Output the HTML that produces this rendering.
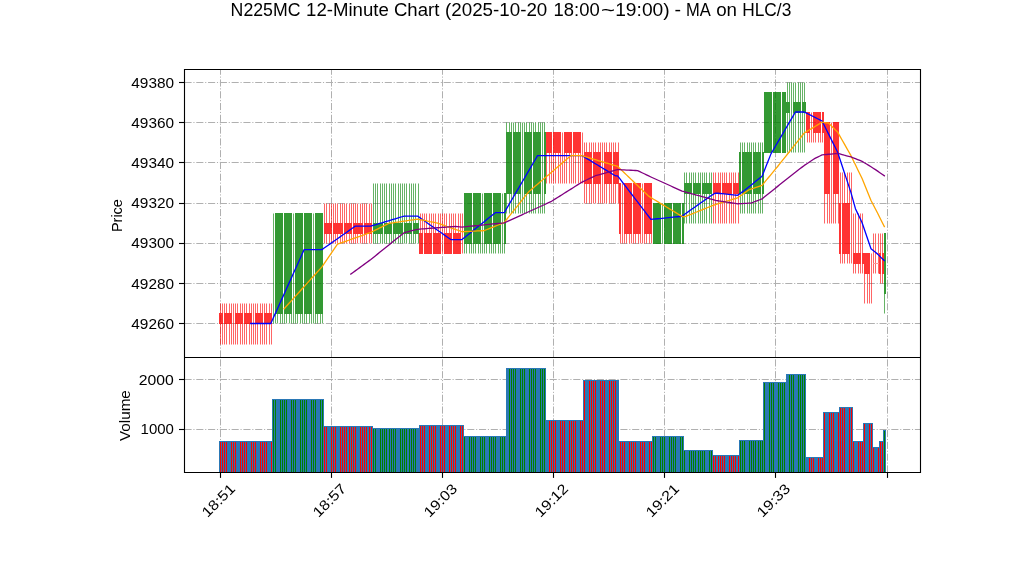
<!DOCTYPE html><html><head><meta charset="utf-8"><title>chart</title><style>html,body{margin:0;padding:0;background:#fff}svg{display:block;will-change:transform}text{font-family:"Liberation Sans",sans-serif;fill:#000}</style></head><body>
<svg width="1022" height="575" viewBox="0 0 1022 575">
<rect width="1022" height="575" fill="#fff"/>
<g stroke="#b0b0b0" stroke-width="1" stroke-dasharray="7.11 1.78 1.11 1.78" fill="none">
<path d="M184.5 82.5H920.5"/>
<path d="M184.5 122.5H920.5"/>
<path d="M184.5 162.5H920.5"/>
<path d="M184.5 203.5H920.5"/>
<path d="M184.5 243.5H920.5"/>
<path d="M184.5 283.5H920.5"/>
<path d="M184.5 323.5H920.5"/>
<path d="M184.5 379.5H920.5"/>
<path d="M184.5 429.5H920.5"/>
<path d="M220.5 357.5V69.5"/>
<path d="M220.5 472.5V357.5"/>
<path d="M331.5 357.5V69.5"/>
<path d="M331.5 472.5V357.5"/>
<path d="M442.5 357.5V69.5"/>
<path d="M442.5 472.5V357.5"/>
<path d="M553.5 357.5V69.5"/>
<path d="M553.5 472.5V357.5"/>
<path d="M664.5 357.5V69.5"/>
<path d="M664.5 472.5V357.5"/>
<path d="M775.5 357.5V69.5"/>
<path d="M775.5 472.5V357.5"/>
<path d="M887.5 357.5V69.5"/>
<path d="M887.5 472.5V357.5"/>
</g>
<g shape-rendering="crispEdges">
</g>
<path d="M220 303.5h1V313h-1zM220 324h1V344.5h-1zM222 303.5h1V313h-1zM222 324h1V344.5h-1zM224 303.5h1V313h-1zM224 324h1V344.5h-1zM226 303.5h1V313h-1zM226 324h1V344.5h-1zM229 303.5h1V313h-1zM229 324h1V344.5h-1zM231 303.5h1V313h-1zM231 324h1V344.5h-1zM233 303.5h1V344.5h-1zM235 303.5h1V313h-1zM235 324h1V344.5h-1zM237 303.5h1V313h-1zM237 324h1V344.5h-1zM240 303.5h1V313h-1zM240 324h1V344.5h-1zM242 303.5h1V313h-1zM242 324h1V344.5h-1zM244 303.5h1V313h-1zM244 324h1V344.5h-1zM246 303.5h1V313h-1zM246 324h1V344.5h-1zM249 303.5h1V313h-1zM249 324h1V344.5h-1zM251 303.5h1V313h-1zM251 324h1V344.5h-1zM253 303.5h1V344.5h-1zM255 303.5h1V313h-1zM255 324h1V344.5h-1zM257 303.5h1V313h-1zM257 324h1V344.5h-1zM260 303.5h1V313h-1zM260 324h1V344.5h-1zM262 303.5h1V313h-1zM262 324h1V344.5h-1zM264 303.5h1V313h-1zM264 324h1V344.5h-1zM266 303.5h1V313h-1zM266 324h1V344.5h-1zM269 303.5h1V313h-1zM269 324h1V344.5h-1zM271 303.5h1V313h-1zM271 324h1V344.5h-1zM324 203.5h1V223h-1zM324 234h1V243.5h-1zM326 203.5h1V223h-1zM326 234h1V243.5h-1zM329 203.5h1V223h-1zM329 234h1V243.5h-1zM331 203.5h1V223h-1zM331 234h1V243.5h-1zM333 203.5h1V223h-1zM333 234h1V243.5h-1zM335 203.5h1V223h-1zM335 234h1V243.5h-1zM337 203.5h1V223h-1zM337 234h1V243.5h-1zM340 203.5h1V223h-1zM340 234h1V243.5h-1zM342 203.5h1V223h-1zM342 234h1V243.5h-1zM344 203.5h1V223h-1zM344 234h1V243.5h-1zM346 203.5h1V223h-1zM346 234h1V243.5h-1zM349 203.5h1V223h-1zM349 234h1V243.5h-1zM351 203.5h1V223h-1zM351 234h1V243.5h-1zM353 203.5h1V223h-1zM353 234h1V243.5h-1zM355 203.5h1V223h-1zM355 234h1V243.5h-1zM357 203.5h1V223h-1zM357 234h1V243.5h-1zM360 203.5h1V223h-1zM360 234h1V243.5h-1zM362 203.5h1V223h-1zM362 234h1V243.5h-1zM364 203.5h1V223h-1zM364 234h1V243.5h-1zM366 203.5h1V223h-1zM366 234h1V243.5h-1zM369 203.5h1V223h-1zM369 234h1V243.5h-1zM371 203.5h1V223h-1zM371 234h1V243.5h-1zM420 213.5h1V233h-1zM422 213.5h1V233h-1zM424 213.5h1V233h-1zM426 213.5h1V233h-1zM429 213.5h1V233h-1zM431 213.5h1V233h-1zM433 213.5h1V233h-1zM435 213.5h1V233h-1zM438 213.5h1V233h-1zM440 213.5h1V233h-1zM442 213.5h1V253.5h-1zM444 213.5h1V233h-1zM446 213.5h1V233h-1zM449 213.5h1V233h-1zM451 213.5h1V233h-1zM453 213.5h1V233h-1zM455 213.5h1V233h-1zM458 213.5h1V233h-1zM460 213.5h1V233h-1zM462 213.5h1V253.5h-1zM546 153h1V183.5h-1zM549 153h1V183.5h-1zM551 153h1V183.5h-1zM553 153h1V183.5h-1zM555 153h1V183.5h-1zM558 153h1V183.5h-1zM560 153h1V183.5h-1zM562 132.5h1V183.5h-1zM564 153h1V183.5h-1zM566 153h1V183.5h-1zM569 153h1V183.5h-1zM571 153h1V183.5h-1zM573 153h1V183.5h-1zM575 153h1V183.5h-1zM578 153h1V183.5h-1zM580 153h1V183.5h-1zM582 132.5h1V183.5h-1zM584 142.5h1V152h-1zM584 184h1V203.5h-1zM586 142.5h1V152h-1zM586 184h1V203.5h-1zM589 142.5h1V152h-1zM589 184h1V203.5h-1zM591 142.5h1V152h-1zM591 184h1V203.5h-1zM593 142.5h1V152h-1zM593 184h1V203.5h-1zM595 142.5h1V152h-1zM595 184h1V203.5h-1zM598 142.5h1V152h-1zM598 184h1V203.5h-1zM600 142.5h1V152h-1zM600 184h1V203.5h-1zM602 142.5h1V203.5h-1zM604 142.5h1V152h-1zM604 184h1V203.5h-1zM606 142.5h1V152h-1zM606 184h1V203.5h-1zM609 142.5h1V152h-1zM609 184h1V203.5h-1zM611 142.5h1V152h-1zM611 184h1V203.5h-1zM613 142.5h1V152h-1zM613 184h1V203.5h-1zM615 142.5h1V152h-1zM615 184h1V203.5h-1zM618 142.5h1V152h-1zM618 184h1V203.5h-1zM620 234h1V243.5h-1zM622 183.5h1V243.5h-1zM624 234h1V243.5h-1zM626 234h1V243.5h-1zM629 234h1V243.5h-1zM631 234h1V243.5h-1zM633 234h1V243.5h-1zM635 234h1V243.5h-1zM638 234h1V243.5h-1zM640 234h1V243.5h-1zM642 183.5h1V243.5h-1zM644 234h1V243.5h-1zM646 234h1V243.5h-1zM649 234h1V243.5h-1zM651 234h1V243.5h-1zM713 172.5h1V183h-1zM713 194h1V223.5h-1zM715 172.5h1V183h-1zM715 194h1V223.5h-1zM718 172.5h1V183h-1zM718 194h1V223.5h-1zM720 172.5h1V183h-1zM720 194h1V223.5h-1zM722 172.5h1V183h-1zM722 194h1V223.5h-1zM724 172.5h1V183h-1zM724 194h1V223.5h-1zM726 172.5h1V183h-1zM726 194h1V223.5h-1zM729 172.5h1V183h-1zM729 194h1V223.5h-1zM731 172.5h1V183h-1zM731 194h1V223.5h-1zM733 172.5h1V183h-1zM733 194h1V223.5h-1zM735 172.5h1V183h-1zM735 194h1V223.5h-1zM738 172.5h1V183h-1zM738 194h1V223.5h-1zM807 133h1V142.5h-1zM809 133h1V142.5h-1zM811 112.5h1V142.5h-1zM813 133h1V142.5h-1zM815 133h1V142.5h-1zM818 133h1V142.5h-1zM820 133h1V142.5h-1zM822 133h1V142.5h-1zM824 194h1V223.5h-1zM827 194h1V223.5h-1zM829 194h1V223.5h-1zM831 122.5h1V223.5h-1zM833 194h1V223.5h-1zM835 194h1V223.5h-1zM838 194h1V223.5h-1zM840 172.5h1V203h-1zM840 254h1V263.5h-1zM842 172.5h1V203h-1zM842 254h1V263.5h-1zM844 172.5h1V203h-1zM844 254h1V263.5h-1zM847 172.5h1V203h-1zM847 254h1V263.5h-1zM849 172.5h1V203h-1zM849 254h1V263.5h-1zM851 172.5h1V263.5h-1zM853 213.5h1V253h-1zM853 264h1V273.5h-1zM855 213.5h1V253h-1zM855 264h1V273.5h-1zM858 213.5h1V253h-1zM858 264h1V273.5h-1zM860 213.5h1V253h-1zM860 264h1V273.5h-1zM862 213.5h1V253h-1zM862 264h1V273.5h-1zM864 274h1V303.5h-1zM867 274h1V303.5h-1zM869 274h1V303.5h-1zM871 253.5h1V303.5h-1zM873 233.5h1V263h-1zM873 264h1V273.5h-1zM875 233.5h1V263h-1zM875 264h1V273.5h-1zM878 233.5h1V263h-1zM878 264h1V273.5h-1zM880 233.5h1V253h-1zM880 274h1V283.5h-1zM882 233.5h1V253h-1zM882 274h1V283.5h-1z" fill="rgba(255,0,0,0.6)"/>
<path d="M273 213.5h1V323.5h-1zM275 314h1V323.5h-1zM277 314h1V323.5h-1zM280 314h1V323.5h-1zM282 314h1V323.5h-1zM284 314h1V323.5h-1zM286 314h1V323.5h-1zM289 314h1V323.5h-1zM291 314h1V323.5h-1zM293 213.5h1V323.5h-1zM295 314h1V323.5h-1zM297 314h1V323.5h-1zM300 314h1V323.5h-1zM302 314h1V323.5h-1zM304 314h1V323.5h-1zM306 314h1V323.5h-1zM309 314h1V323.5h-1zM311 314h1V323.5h-1zM313 213.5h1V323.5h-1zM315 314h1V323.5h-1zM317 314h1V323.5h-1zM320 314h1V323.5h-1zM322 314h1V323.5h-1zM373 183.5h1V223h-1zM373 234h1V243.5h-1zM375 183.5h1V223h-1zM375 234h1V243.5h-1zM377 183.5h1V223h-1zM377 234h1V243.5h-1zM380 183.5h1V223h-1zM380 234h1V243.5h-1zM382 183.5h1V223h-1zM382 234h1V243.5h-1zM384 183.5h1V223h-1zM384 234h1V243.5h-1zM386 183.5h1V223h-1zM386 234h1V243.5h-1zM389 183.5h1V223h-1zM389 234h1V243.5h-1zM391 183.5h1V223h-1zM391 234h1V243.5h-1zM393 183.5h1V223h-1zM393 234h1V243.5h-1zM395 183.5h1V223h-1zM395 234h1V243.5h-1zM398 183.5h1V223h-1zM398 234h1V243.5h-1zM400 183.5h1V223h-1zM400 234h1V243.5h-1zM402 183.5h1V223h-1zM402 234h1V243.5h-1zM404 183.5h1V223h-1zM404 234h1V243.5h-1zM406 183.5h1V223h-1zM406 234h1V243.5h-1zM409 183.5h1V223h-1zM409 234h1V243.5h-1zM411 183.5h1V223h-1zM411 234h1V243.5h-1zM413 183.5h1V223h-1zM413 234h1V243.5h-1zM415 183.5h1V223h-1zM415 234h1V243.5h-1zM418 183.5h1V223h-1zM418 234h1V243.5h-1zM464 244h1V253.5h-1zM466 244h1V253.5h-1zM469 244h1V253.5h-1zM471 244h1V253.5h-1zM473 244h1V253.5h-1zM475 244h1V253.5h-1zM478 244h1V253.5h-1zM480 244h1V253.5h-1zM482 193.5h1V253.5h-1zM484 244h1V253.5h-1zM486 244h1V253.5h-1zM489 244h1V253.5h-1zM491 244h1V253.5h-1zM493 244h1V253.5h-1zM495 244h1V253.5h-1zM498 244h1V253.5h-1zM500 244h1V253.5h-1zM502 193.5h1V253.5h-1zM504 244h1V253.5h-1zM506 122.5h1V132h-1zM506 194h1V213.5h-1zM509 122.5h1V132h-1zM509 194h1V213.5h-1zM511 122.5h1V132h-1zM511 194h1V213.5h-1zM513 122.5h1V132h-1zM513 194h1V213.5h-1zM515 122.5h1V132h-1zM515 194h1V213.5h-1zM518 122.5h1V132h-1zM518 194h1V213.5h-1zM520 122.5h1V132h-1zM520 194h1V213.5h-1zM522 122.5h1V213.5h-1zM524 122.5h1V132h-1zM524 194h1V213.5h-1zM526 122.5h1V132h-1zM526 194h1V213.5h-1zM529 122.5h1V132h-1zM529 194h1V213.5h-1zM531 122.5h1V132h-1zM531 194h1V213.5h-1zM533 122.5h1V132h-1zM533 194h1V213.5h-1zM535 122.5h1V132h-1zM535 194h1V213.5h-1zM538 122.5h1V132h-1zM538 194h1V213.5h-1zM540 122.5h1V132h-1zM540 194h1V213.5h-1zM542 122.5h1V213.5h-1zM544 122.5h1V132h-1zM544 194h1V213.5h-1zM662 203.5h1V243.5h-1zM684 172.5h1V183h-1zM684 194h1V223.5h-1zM686 172.5h1V183h-1zM686 194h1V223.5h-1zM689 172.5h1V183h-1zM689 194h1V223.5h-1zM691 172.5h1V183h-1zM691 194h1V223.5h-1zM693 172.5h1V183h-1zM693 194h1V223.5h-1zM695 172.5h1V183h-1zM695 194h1V223.5h-1zM698 172.5h1V183h-1zM698 194h1V223.5h-1zM700 172.5h1V183h-1zM700 194h1V223.5h-1zM702 172.5h1V183h-1zM702 194h1V223.5h-1zM704 172.5h1V183h-1zM704 194h1V223.5h-1zM706 172.5h1V183h-1zM706 194h1V223.5h-1zM709 172.5h1V183h-1zM709 194h1V223.5h-1zM711 172.5h1V183h-1zM711 194h1V223.5h-1zM740 142.5h1V152h-1zM740 194h1V213.5h-1zM742 142.5h1V152h-1zM742 194h1V213.5h-1zM744 142.5h1V152h-1zM744 194h1V213.5h-1zM747 142.5h1V152h-1zM747 194h1V213.5h-1zM749 142.5h1V152h-1zM749 194h1V213.5h-1zM751 142.5h1V152h-1zM751 194h1V213.5h-1zM753 142.5h1V152h-1zM753 194h1V213.5h-1zM755 142.5h1V152h-1zM755 194h1V213.5h-1zM758 142.5h1V152h-1zM758 194h1V213.5h-1zM760 142.5h1V152h-1zM760 194h1V213.5h-1zM762 142.5h1V152h-1zM762 194h1V213.5h-1zM787 82.5h1V102h-1zM787 113h1V152.5h-1zM789 82.5h1V102h-1zM789 113h1V152.5h-1zM791 82.5h1V152.5h-1zM793 82.5h1V102h-1zM793 113h1V152.5h-1zM795 82.5h1V102h-1zM795 113h1V152.5h-1zM798 82.5h1V102h-1zM798 113h1V152.5h-1zM800 82.5h1V102h-1zM800 113h1V152.5h-1zM802 82.5h1V102h-1zM802 113h1V152.5h-1zM804 82.5h1V102h-1zM804 113h1V152.5h-1zM884 294h1V313.5h-1z" fill="rgba(0,128,0,0.6)"/>
<path d="M219 313h2V324h-2zM221 313h2V324h-2zM224 313h2V324h-2zM226 313h2V324h-2zM228 313h2V324h-2zM230 313h2V324h-2zM235 313h2V324h-2zM237 313h2V324h-2zM239 313h2V324h-2zM241 313h2V324h-2zM244 313h2V324h-2zM246 313h2V324h-2zM248 313h2V324h-2zM250 313h2V324h-2zM255 313h2V324h-2zM257 313h2V324h-2zM259 313h2V324h-2zM261 313h2V324h-2zM264 313h2V324h-2zM266 313h2V324h-2zM268 313h2V324h-2zM270 313h2V324h-2zM324 223h2V234h-2zM326 223h2V234h-2zM328 223h2V234h-2zM330 223h2V234h-2zM333 223h2V234h-2zM335 223h2V234h-2zM337 223h2V234h-2zM339 223h2V234h-2zM341 223h2V234h-2zM344 223h2V234h-2zM346 223h2V234h-2zM348 223h2V234h-2zM350 223h2V234h-2zM353 223h2V234h-2zM355 223h2V234h-2zM357 223h2V234h-2zM359 223h2V234h-2zM361 223h2V234h-2zM364 223h2V234h-2zM366 223h2V234h-2zM368 223h2V234h-2zM370 223h2V234h-2zM419 233h2V254h-2zM421 233h2V254h-2zM424 233h2V254h-2zM426 233h2V254h-2zM428 233h2V254h-2zM430 233h2V254h-2zM433 233h2V254h-2zM435 233h2V254h-2zM437 233h2V254h-2zM439 233h2V254h-2zM444 233h2V254h-2zM446 233h2V254h-2zM448 233h2V254h-2zM450 233h2V254h-2zM453 233h2V254h-2zM455 233h2V254h-2zM457 233h2V254h-2zM459 233h2V254h-2zM546 132h2V153h-2zM548 132h2V153h-2zM550 132h2V153h-2zM553 132h2V153h-2zM555 132h2V153h-2zM557 132h2V153h-2zM559 132h2V153h-2zM564 132h2V153h-2zM566 132h2V153h-2zM568 132h2V153h-2zM570 132h2V153h-2zM573 132h2V153h-2zM575 132h2V153h-2zM577 132h2V153h-2zM579 132h2V153h-2zM584 152h2V184h-2zM586 152h2V184h-2zM588 152h2V184h-2zM590 152h2V184h-2zM593 152h2V184h-2zM595 152h2V184h-2zM597 152h2V184h-2zM599 152h2V184h-2zM604 152h2V184h-2zM606 152h2V184h-2zM608 152h2V184h-2zM610 152h2V184h-2zM613 152h2V184h-2zM615 152h2V184h-2zM617 152h2V184h-2zM619 183h2V234h-2zM624 183h2V234h-2zM626 183h2V234h-2zM628 183h2V234h-2zM630 183h2V234h-2zM633 183h2V234h-2zM635 183h2V234h-2zM637 183h2V234h-2zM639 183h2V234h-2zM644 183h2V234h-2zM646 183h2V234h-2zM648 183h2V234h-2zM650 183h2V234h-2zM713 183h2V194h-2zM715 183h2V194h-2zM717 183h2V194h-2zM719 183h2V194h-2zM722 183h2V194h-2zM724 183h2V194h-2zM726 183h2V194h-2zM728 183h2V194h-2zM730 183h2V194h-2zM733 183h2V194h-2zM735 183h2V194h-2zM737 183h2V194h-2zM806 112h2V133h-2zM808 112h2V133h-2zM813 112h2V133h-2zM815 112h2V133h-2zM817 112h2V133h-2zM819 112h2V133h-2zM822 112h2V133h-2zM824 122h2V194h-2zM826 122h2V194h-2zM828 122h2V194h-2zM833 122h2V194h-2zM835 122h2V194h-2zM837 122h2V194h-2zM839 203h2V254h-2zM842 203h2V254h-2zM844 203h2V254h-2zM846 203h2V254h-2zM848 203h2V254h-2zM853 253h2V264h-2zM855 253h2V264h-2zM857 253h2V264h-2zM859 253h2V264h-2zM862 253h2V264h-2zM864 253h2V274h-2zM866 253h2V274h-2zM868 253h2V274h-2zM879 253h2V274h-2zM882 253h2V274h-2z" fill="rgba(255,0,0,0.8)"/>
<path d="M275 213h2V314h-2zM277 213h2V314h-2zM279 213h2V314h-2zM281 213h2V314h-2zM284 213h2V314h-2zM286 213h2V314h-2zM288 213h2V314h-2zM290 213h2V314h-2zM295 213h2V314h-2zM297 213h2V314h-2zM299 213h2V314h-2zM301 213h2V314h-2zM304 213h2V314h-2zM306 213h2V314h-2zM308 213h2V314h-2zM310 213h2V314h-2zM315 213h2V314h-2zM317 213h2V314h-2zM319 213h2V314h-2zM321 213h2V314h-2zM373 223h2V234h-2zM375 223h2V234h-2zM377 223h2V234h-2zM379 223h2V234h-2zM381 223h2V234h-2zM384 223h2V234h-2zM386 223h2V234h-2zM388 223h2V234h-2zM390 223h2V234h-2zM393 223h2V234h-2zM395 223h2V234h-2zM397 223h2V234h-2zM399 223h2V234h-2zM401 223h2V234h-2zM404 223h2V234h-2zM406 223h2V234h-2zM408 223h2V234h-2zM410 223h2V234h-2zM413 223h2V234h-2zM415 223h2V234h-2zM417 223h2V234h-2zM464 193h2V244h-2zM466 193h2V244h-2zM468 193h2V244h-2zM470 193h2V244h-2zM473 193h2V244h-2zM475 193h2V244h-2zM477 193h2V244h-2zM479 193h2V244h-2zM484 193h2V244h-2zM486 193h2V244h-2zM488 193h2V244h-2zM490 193h2V244h-2zM493 193h2V244h-2zM495 193h2V244h-2zM497 193h2V244h-2zM499 193h2V244h-2zM504 193h2V244h-2zM506 132h2V194h-2zM508 132h2V194h-2zM510 132h2V194h-2zM513 132h2V194h-2zM515 132h2V194h-2zM517 132h2V194h-2zM519 132h2V194h-2zM524 132h2V194h-2zM526 132h2V194h-2zM528 132h2V194h-2zM530 132h2V194h-2zM533 132h2V194h-2zM535 132h2V194h-2zM537 132h2V194h-2zM539 132h2V194h-2zM544 132h2V194h-2zM653 203h2V244h-2zM655 203h2V244h-2zM657 203h2V244h-2zM659 203h2V244h-2zM664 203h2V244h-2zM666 203h2V244h-2zM668 203h2V244h-2zM670 203h2V244h-2zM673 203h2V244h-2zM675 203h2V244h-2zM677 203h2V244h-2zM679 203h2V244h-2zM682 203h2V244h-2zM684 183h2V194h-2zM686 183h2V194h-2zM688 183h2V194h-2zM690 183h2V194h-2zM693 183h2V194h-2zM695 183h2V194h-2zM697 183h2V194h-2zM699 183h2V194h-2zM702 183h2V194h-2zM704 183h2V194h-2zM706 183h2V194h-2zM708 183h2V194h-2zM710 183h2V194h-2zM739 152h2V194h-2zM742 152h2V194h-2zM744 152h2V194h-2zM746 152h2V194h-2zM748 152h2V194h-2zM750 152h2V194h-2zM753 152h2V194h-2zM755 152h2V194h-2zM757 152h2V194h-2zM759 152h2V194h-2zM762 152h2V194h-2zM764 92h2V153h-2zM766 92h2V153h-2zM768 92h2V153h-2zM770 92h2V153h-2zM773 92h2V153h-2zM775 92h2V153h-2zM777 92h2V153h-2zM779 92h2V153h-2zM782 92h2V153h-2zM784 92h2V153h-2zM786 102h2V113h-2zM788 102h2V113h-2zM793 102h2V113h-2zM795 102h2V113h-2zM797 102h2V113h-2zM799 102h2V113h-2zM802 102h2V113h-2zM804 102h2V113h-2zM884 233h2V294h-2z" fill="rgba(0,128,0,0.8)"/>
<path d="M873 263h2V264h-2zM875 263h2V264h-2zM877 263h2V264h-2z" fill="rgba(255,0,0,0.4)"/>
<polyline points="250.79,323.49 253.01,323.49 255.24,323.49 257.46,323.49 259.68,323.49 261.91,323.49 264.13,323.49 266.35,323.49 268.58,323.49 270.80,323.49 273.02,318.57 275.24,313.64 277.47,308.72 279.69,303.80 281.91,298.87 284.14,293.95 286.36,289.03 288.58,284.11 290.80,279.18 293.03,274.26 295.25,269.34 297.47,264.41 299.70,259.49 301.92,254.57 304.14,249.64 306.37,249.64 308.59,249.64 310.81,249.64 313.03,249.64 315.26,249.64 317.48,249.64 319.70,249.64 321.93,249.64 324.15,248.08 326.37,246.51 328.59,244.94 330.82,243.38 333.04,241.81 335.26,240.24 337.49,238.68 339.71,237.11 341.93,235.55 344.16,233.98 346.38,232.41 348.60,230.85 350.82,229.28 353.05,227.71 355.27,226.15 357.49,226.15 359.72,226.15 361.94,226.15 364.16,226.15 366.38,226.15 368.61,226.15 370.83,226.15 373.05,225.48 375.28,224.80 377.50,224.13 379.72,223.46 381.95,222.79 384.17,222.12 386.39,221.45 388.61,220.78 390.84,220.10 393.06,219.43 395.28,218.76 397.51,218.09 399.73,217.42 401.95,216.75 404.17,216.08 406.40,216.08 408.62,216.08 410.84,216.08 413.07,216.08 415.29,216.08 417.51,216.08 419.73,217.64 421.96,219.21 424.18,220.78 426.40,222.34 428.63,223.91 430.85,225.48 433.07,227.04 435.30,228.61 437.52,230.17 439.74,231.74 441.96,233.31 444.19,234.87 446.41,236.44 448.63,238.01 450.86,239.57 453.08,239.57 455.30,239.57 457.52,239.57 459.75,239.57 461.97,239.57 464.19,237.78 466.42,235.99 468.64,234.20 470.86,232.41 473.09,230.62 475.31,228.83 477.53,227.04 479.75,225.25 481.98,223.46 484.20,221.67 486.42,219.88 488.65,218.09 490.87,216.30 493.09,214.51 495.31,212.72 497.54,212.72 499.76,212.72 501.98,212.72 504.21,212.72 506.43,208.92 508.65,205.11 510.88,201.31 513.10,197.50 515.32,193.70 517.54,189.89 519.77,186.09 521.99,182.29 524.21,178.48 526.44,174.68 528.66,170.87 530.88,167.07 533.10,163.27 535.33,159.46 537.55,155.66 539.77,155.66 542.00,155.66 544.22,155.66 546.44,155.66 548.67,155.66 550.89,155.66 553.11,155.66 555.33,155.66 557.56,155.66 559.78,155.66 562.00,155.66 564.23,155.66 566.45,155.66 568.67,155.66 570.89,155.66 573.12,155.66 575.34,155.66 577.56,155.66 579.79,155.66 582.01,155.66 584.23,157.00 586.45,158.34 588.68,159.68 590.90,161.03 593.12,162.37 595.35,163.71 597.57,165.06 599.79,166.40 602.02,167.74 604.24,169.08 606.46,170.43 608.68,171.77 610.91,173.11 613.13,174.45 615.35,175.80 617.58,175.80 619.80,178.71 622.02,181.61 624.24,184.52 626.47,187.43 628.69,190.34 630.91,193.25 633.14,196.16 635.36,199.07 637.58,201.98 639.81,204.89 642.03,207.80 644.25,210.71 646.47,213.62 648.70,216.52 650.92,219.43 653.14,219.21 655.37,218.99 657.59,218.76 659.81,218.54 662.03,218.31 664.26,218.09 666.48,217.87 668.70,217.64 670.93,217.42 673.15,217.20 675.37,216.97 677.60,216.75 679.82,216.52 682.04,216.30 684.26,214.51 686.49,212.94 688.71,211.38 690.93,209.81 693.16,208.24 695.38,206.68 697.60,205.11 699.82,203.55 702.05,201.98 704.27,200.41 706.49,198.85 708.72,197.28 710.94,195.71 713.16,194.37 715.39,193.03 717.61,193.25 719.83,193.48 722.05,193.70 724.28,193.92 726.50,194.15 728.72,194.37 730.95,194.59 733.17,194.82 735.39,195.04 737.61,195.27 739.84,193.70 742.06,192.13 744.28,190.57 746.51,188.78 748.73,186.99 750.95,185.20 753.17,183.41 755.40,181.61 757.62,179.82 759.84,178.03 762.07,176.24 764.29,170.65 766.51,165.06 768.74,159.46 770.96,153.87 773.18,150.06 775.40,146.26 777.63,142.45 779.85,138.65 782.07,134.85 784.30,131.04 786.52,127.24 788.74,123.43 790.96,119.63 793.19,115.82 795.41,112.02 797.63,112.02 799.86,112.02 802.08,112.02 804.30,112.02 806.53,113.14 808.75,114.26 810.97,115.38 813.19,116.50 815.42,117.61 817.64,118.73 819.86,119.85 822.09,120.97 824.31,125.45 826.53,129.92 828.75,134.40 830.98,138.87 833.20,143.35 835.42,147.82 837.65,152.30 839.87,159.01 842.09,165.73 844.32,172.44 846.54,179.15 848.76,185.87 850.98,192.58 853.21,200.64 855.43,208.69 857.65,213.39 859.88,218.09 862.10,222.79 864.32,229.28 866.54,235.77 868.77,242.26 870.99,248.75 873.21,250.54 875.44,252.33 877.66,254.12 879.88,256.36 882.11,258.59 884.33,260.61" fill="none" stroke="#0000ff" stroke-width="1.3" stroke-linejoin="round" stroke-linecap="square"/>
<polyline points="284.14,308.72 286.36,306.26 288.58,303.80 290.80,301.34 293.03,298.87 295.25,296.41 297.47,293.95 299.70,291.49 301.92,289.03 304.14,286.57 306.37,284.11 308.59,281.64 310.81,279.18 313.03,276.72 315.26,274.26 317.48,271.80 319.70,269.34 321.93,266.87 324.15,263.63 326.37,260.38 328.59,257.14 330.82,253.90 333.04,250.65 335.26,247.41 337.49,244.16 339.71,243.38 341.93,242.59 344.16,241.81 346.38,241.03 348.60,240.24 350.82,239.46 353.05,238.68 355.27,237.89 357.49,237.11 359.72,236.33 361.94,235.55 364.16,234.76 366.38,233.98 368.61,233.20 370.83,232.41 373.05,231.29 375.28,230.17 377.50,229.06 379.72,227.94 381.95,226.82 384.17,225.70 386.39,224.58 388.61,223.46 390.84,223.13 393.06,222.79 395.28,222.45 397.51,222.12 399.73,221.78 401.95,221.45 404.17,221.11 406.40,220.78 408.62,220.44 410.84,220.10 413.07,219.77 415.29,219.43 417.51,219.10 419.73,219.55 421.96,219.99 424.18,220.44 426.40,220.89 428.63,221.34 430.85,221.78 433.07,222.23 435.30,222.68 437.52,223.13 439.74,223.91 441.96,224.69 444.19,225.48 446.41,226.26 448.63,227.04 450.86,227.82 453.08,228.61 455.30,229.39 457.52,230.17 459.75,230.96 461.97,231.74 464.19,231.63 466.42,231.52 468.64,231.41 470.86,231.29 473.09,231.18 475.31,231.07 477.53,230.96 479.75,230.85 481.98,230.73 484.20,230.62 486.42,229.73 488.65,228.83 490.87,227.94 493.09,227.04 495.31,226.15 497.54,225.25 499.76,224.36 501.98,223.46 504.21,222.57 506.43,219.77 508.65,216.97 510.88,214.17 513.10,211.38 515.32,208.58 517.54,205.78 519.77,202.99 521.99,200.19 524.21,197.39 526.44,194.59 528.66,191.80 530.88,189.89 533.10,187.99 535.33,186.09 537.55,184.19 539.77,182.29 542.00,180.38 544.22,178.48 546.44,176.58 548.67,174.68 550.89,172.78 553.11,170.87 555.33,168.97 557.56,167.07 559.78,165.17 562.00,163.27 564.23,161.36 566.45,159.46 568.67,157.56 570.89,155.66 573.12,155.66 575.34,155.66 577.56,155.66 579.79,155.66 582.01,155.66 584.23,156.33 586.45,157.00 588.68,157.67 590.90,158.34 593.12,159.01 595.35,159.68 597.57,160.36 599.79,161.03 602.02,161.70 604.24,162.37 606.46,163.04 608.68,163.71 610.91,164.38 613.13,165.06 615.35,165.73 617.58,166.40 619.80,168.52 622.02,170.65 624.24,172.78 626.47,174.90 628.69,177.03 630.91,179.15 633.14,181.28 635.36,183.41 637.58,185.53 639.81,187.66 642.03,189.78 644.25,191.91 646.47,194.03 648.70,196.16 650.92,197.62 653.14,198.96 655.37,200.30 657.59,201.64 659.81,202.99 662.03,204.33 664.26,205.67 666.48,207.01 668.70,208.36 670.93,209.70 673.15,211.04 675.37,212.38 677.60,213.73 679.82,215.07 682.04,216.41 684.26,216.97 686.49,216.08 688.71,215.18 690.93,214.29 693.16,213.39 695.38,212.50 697.60,211.60 699.82,210.71 702.05,209.81 704.27,208.92 706.49,208.02 708.72,207.13 710.94,206.23 713.16,205.45 715.39,204.66 717.61,203.88 719.83,203.21 722.05,202.54 724.28,201.87 726.50,201.20 728.72,200.52 730.95,199.85 733.17,199.18 735.39,198.51 737.61,197.84 739.84,196.27 742.06,194.71 744.28,193.14 746.51,191.57 748.73,190.01 750.95,189.22 753.17,188.44 755.40,187.66 757.62,186.87 759.84,186.09 762.07,185.31 764.29,182.62 766.51,179.94 768.74,177.25 770.96,174.57 773.18,171.88 775.40,169.20 777.63,166.51 779.85,163.71 782.07,160.92 784.30,158.12 786.52,155.32 788.74,152.52 790.96,149.73 793.19,146.93 795.41,144.13 797.63,141.33 799.86,138.54 802.08,135.74 804.30,132.94 806.53,131.60 808.75,130.26 810.97,128.92 813.19,127.57 815.42,126.23 817.64,124.89 819.86,123.54 822.09,122.20 824.31,122.54 826.53,122.87 828.75,123.21 830.98,125.45 833.20,127.68 835.42,129.92 837.65,132.16 839.87,136.08 842.09,139.99 844.32,143.91 846.54,147.82 848.76,151.74 850.98,155.66 853.21,160.24 855.43,164.83 857.65,169.42 859.88,174.01 862.10,178.59 864.32,184.08 866.54,189.56 868.77,195.04 870.99,200.52 873.21,204.78 875.44,209.03 877.66,213.28 879.88,217.75 882.11,222.23 884.33,226.59" fill="none" stroke="#ffa500" stroke-width="1.3" stroke-linejoin="round" stroke-linecap="square"/>
<polyline points="350.82,274.09 353.05,272.47 355.27,270.85 357.49,269.22 359.72,267.60 361.94,265.98 364.16,264.36 366.38,262.73 368.61,261.11 370.83,259.49 373.05,257.70 375.28,255.91 377.50,254.12 379.72,252.33 381.95,250.54 384.17,248.75 386.39,246.96 388.61,245.17 390.84,243.38 393.06,241.59 395.28,239.80 397.51,238.01 399.73,236.22 401.95,234.43 404.17,232.64 406.40,232.08 408.62,231.52 410.84,230.96 413.07,230.40 415.29,229.84 417.51,229.28 419.73,229.11 421.96,228.94 424.18,228.78 426.40,228.61 428.63,228.44 430.85,228.27 433.07,228.10 435.30,227.94 437.52,227.77 439.74,227.60 441.96,227.43 444.19,227.27 446.41,227.10 448.63,226.93 450.86,226.76 453.08,226.59 455.30,226.43 457.52,226.65 459.75,226.87 461.97,227.10 464.19,226.87 466.42,226.65 468.64,226.43 470.86,226.20 473.09,225.98 475.31,225.76 477.53,225.53 479.75,225.31 481.98,225.08 484.20,224.86 486.42,224.64 488.65,224.41 490.87,224.19 493.09,223.96 495.31,223.74 497.54,223.52 499.76,223.29 501.98,223.07 504.21,222.85 506.43,221.84 508.65,220.83 510.88,219.82 513.10,218.82 515.32,217.81 517.54,216.80 519.77,215.80 521.99,214.79 524.21,213.78 526.44,212.78 528.66,211.77 530.88,210.76 533.10,209.75 535.33,208.75 537.55,207.74 539.77,206.73 542.00,205.73 544.22,204.72 546.44,203.71 548.67,202.71 550.89,201.70 553.11,200.30 555.33,198.90 557.56,197.50 559.78,196.10 562.00,194.71 564.23,193.31 566.45,191.91 568.67,190.51 570.89,189.11 573.12,187.71 575.34,186.31 577.56,184.92 579.79,183.52 582.01,182.12 584.23,181.06 586.45,179.99 588.68,178.93 590.90,177.87 593.12,176.80 595.35,175.74 597.57,175.13 599.79,174.51 602.02,173.89 604.24,173.28 606.46,172.66 608.68,172.05 610.91,171.43 613.13,170.82 615.35,170.20 617.58,169.59 619.80,169.70 622.02,169.81 624.24,169.92 626.47,170.03 628.69,170.15 630.91,170.26 633.14,170.37 635.36,170.48 637.58,170.59 639.81,171.66 642.03,172.72 644.25,173.78 646.47,174.85 648.70,175.91 650.92,176.97 653.14,177.98 655.37,178.99 657.59,179.99 659.81,181.00 662.03,182.01 664.26,183.01 666.48,184.02 668.70,185.03 670.93,186.03 673.15,187.04 675.37,188.05 677.60,189.06 679.82,190.06 682.04,191.07 684.26,191.68 686.49,192.30 688.71,192.92 690.93,193.53 693.16,194.15 695.38,194.76 697.60,195.38 699.82,195.99 702.05,196.61 704.27,197.22 706.49,197.84 708.72,198.45 710.94,199.07 713.16,199.74 715.39,200.41 717.61,200.75 719.83,201.08 722.05,201.42 724.28,201.75 726.50,202.09 728.72,202.43 730.95,202.76 733.17,203.10 735.39,203.43 737.61,203.77 739.84,203.66 742.06,203.55 744.28,203.43 746.51,203.32 748.73,203.21 750.95,203.10 753.17,202.26 755.40,201.42 757.62,200.58 759.84,199.74 762.07,198.90 764.29,197.11 766.51,195.32 768.74,193.53 770.96,191.74 773.18,189.95 775.40,188.16 777.63,186.37 779.85,184.58 782.07,182.79 784.30,181.00 786.52,179.27 788.74,177.53 790.96,175.80 793.19,174.06 795.41,172.33 797.63,170.59 799.86,168.86 802.08,167.13 804.30,165.39 806.53,163.94 808.75,162.48 810.97,161.03 813.19,159.57 815.42,158.12 817.64,157.06 819.86,155.99 822.09,154.93 824.31,154.71 826.53,154.48 828.75,154.26 830.98,154.03 833.20,153.81 835.42,153.59 837.65,153.36 839.87,153.98 842.09,154.59 844.32,155.21 846.54,155.77 848.76,156.33 850.98,156.89 853.21,157.78 855.43,158.68 857.65,159.57 859.88,160.47 862.10,161.36 864.32,162.71 866.54,164.05 868.77,165.39 870.99,166.73 873.21,168.19 875.44,169.64 877.66,171.10 879.88,172.66 882.11,174.23 884.33,175.74" fill="none" stroke="#800080" stroke-width="1.3" stroke-linejoin="round" stroke-linecap="square"/>
<path d="M219 441h54V472h-54zM272 399h52V472h-52zM323 426h50V472h-50zM372 428h47V472h-47zM419 425h45V472h-45zM463 436h43V472h-43zM506 368h40V472h-40zM546 420h38V472h-38zM583 380h36V472h-36zM619 441h34V472h-34zM652 436h32V472h-32zM683 450h30V472h-30zM712 455h28V472h-28zM739 440h25V472h-25zM763 382h23V472h-23zM786 374h20V472h-20zM806 457h18V472h-18zM823 412h17V472h-17zM839 407h14V472h-14zM852 441h12V472h-12zM863 423h10V472h-10zM872 447h8V472h-8zM879 441h5V472h-5zM883 430h3V472h-3z" fill="#2a78b5"/>
<path d="M220 442h1V472h-1zM222 442h1V472h-1zM224 442h1V472h-1zM226 442h1V472h-1zM231 442h1V472h-1zM233 442h1V472h-1zM235 442h1V472h-1zM240 442h1V472h-1zM242 442h1V472h-1zM244 442h1V472h-1zM246 442h1V472h-1zM251 442h1V472h-1zM253 442h1V472h-1zM255 442h1V472h-1zM260 442h1V472h-1zM262 442h1V472h-1zM264 442h1V472h-1zM266 442h1V472h-1zM271 442h1V472h-1zM324 427h1V472h-1zM326 427h1V472h-1zM331 427h1V472h-1zM333 427h1V472h-1zM335 427h1V472h-1zM340 427h1V472h-1zM342 427h1V472h-1zM344 427h1V472h-1zM346 427h1V472h-1zM349 427h1V472h-1zM351 427h1V472h-1zM353 427h1V472h-1zM355 427h1V472h-1zM360 427h1V472h-1zM362 427h1V472h-1zM364 427h1V472h-1zM366 427h1V472h-1zM369 427h1V472h-1zM371 427h1V472h-1zM420 426h1V472h-1zM422 426h1V472h-1zM424 426h1V472h-1zM429 426h1V472h-1zM431 426h1V472h-1zM433 426h1V472h-1zM435 426h1V472h-1zM440 426h1V472h-1zM442 426h1V472h-1zM444 426h1V472h-1zM449 426h1V472h-1zM451 426h1V472h-1zM453 426h1V472h-1zM455 426h1V472h-1zM460 426h1V472h-1zM462 426h1V472h-1zM549 421h1V472h-1zM551 421h1V472h-1zM553 421h1V472h-1zM555 421h1V472h-1zM560 421h1V472h-1zM562 421h1V472h-1zM564 421h1V472h-1zM569 421h1V472h-1zM571 421h1V472h-1zM573 421h1V472h-1zM575 421h1V472h-1zM580 421h1V472h-1zM582 421h1V472h-1zM584 381h1V472h-1zM589 381h1V472h-1zM591 381h1V472h-1zM593 381h1V472h-1zM595 381h1V472h-1zM600 381h1V472h-1zM602 381h1V472h-1zM604 381h1V472h-1zM609 381h1V472h-1zM611 381h1V472h-1zM613 381h1V472h-1zM615 381h1V472h-1zM620 442h1V472h-1zM622 442h1V472h-1zM624 442h1V472h-1zM629 442h1V472h-1zM631 442h1V472h-1zM633 442h1V472h-1zM635 442h1V472h-1zM640 442h1V472h-1zM642 442h1V472h-1zM644 442h1V472h-1zM649 442h1V472h-1zM651 442h1V472h-1zM713 456h1V472h-1zM715 456h1V472h-1zM718 456h1V472h-1zM720 456h1V472h-1zM722 456h1V472h-1zM724 456h1V472h-1zM729 456h1V472h-1zM731 456h1V472h-1zM733 456h1V472h-1zM735 456h1V472h-1zM738 456h1V472h-1zM809 458h1V472h-1zM811 458h1V472h-1zM813 458h1V472h-1zM818 458h1V472h-1zM820 458h1V472h-1zM822 458h1V472h-1zM824 413h1V472h-1zM829 413h1V472h-1zM831 413h1V472h-1zM833 413h1V472h-1zM838 413h1V472h-1zM840 408h1V472h-1zM842 408h1V472h-1zM844 408h1V472h-1zM849 408h1V472h-1zM851 408h1V472h-1zM853 442h1V472h-1zM858 442h1V472h-1zM860 442h1V472h-1zM862 442h1V472h-1zM864 424h1V472h-1zM869 424h1V472h-1zM871 424h1V472h-1zM873 448h1V472h-1zM878 448h1V472h-1zM880 442h1V472h-1zM882 442h1V472h-1z" fill="#ff0000"/>
<path d="M273 400h1V472h-1zM275 400h1V472h-1zM280 400h1V472h-1zM282 400h1V472h-1zM284 400h1V472h-1zM286 400h1V472h-1zM291 400h1V472h-1zM293 400h1V472h-1zM295 400h1V472h-1zM300 400h1V472h-1zM302 400h1V472h-1zM304 400h1V472h-1zM306 400h1V472h-1zM311 400h1V472h-1zM313 400h1V472h-1zM315 400h1V472h-1zM320 400h1V472h-1zM322 400h1V472h-1zM373 429h1V472h-1zM375 429h1V472h-1zM380 429h1V472h-1zM382 429h1V472h-1zM384 429h1V472h-1zM386 429h1V472h-1zM389 429h1V472h-1zM391 429h1V472h-1zM393 429h1V472h-1zM395 429h1V472h-1zM400 429h1V472h-1zM402 429h1V472h-1zM404 429h1V472h-1zM406 429h1V472h-1zM409 429h1V472h-1zM411 429h1V472h-1zM413 429h1V472h-1zM415 429h1V472h-1zM464 437h1V472h-1zM469 437h1V472h-1zM471 437h1V472h-1zM473 437h1V472h-1zM475 437h1V472h-1zM480 437h1V472h-1zM482 437h1V472h-1zM484 437h1V472h-1zM489 437h1V472h-1zM491 437h1V472h-1zM493 437h1V472h-1zM495 437h1V472h-1zM500 437h1V472h-1zM502 437h1V472h-1zM504 437h1V472h-1zM509 369h1V472h-1zM511 369h1V472h-1zM513 369h1V472h-1zM515 369h1V472h-1zM520 369h1V472h-1zM522 369h1V472h-1zM524 369h1V472h-1zM529 369h1V472h-1zM531 369h1V472h-1zM533 369h1V472h-1zM535 369h1V472h-1zM540 369h1V472h-1zM542 369h1V472h-1zM544 369h1V472h-1zM653 437h1V472h-1zM655 437h1V472h-1zM660 437h1V472h-1zM662 437h1V472h-1zM664 437h1V472h-1zM669 437h1V472h-1zM671 437h1V472h-1zM673 437h1V472h-1zM675 437h1V472h-1zM680 437h1V472h-1zM682 437h1V472h-1zM684 451h1V472h-1zM689 451h1V472h-1zM691 451h1V472h-1zM693 451h1V472h-1zM695 451h1V472h-1zM698 451h1V472h-1zM700 451h1V472h-1zM702 451h1V472h-1zM704 451h1V472h-1zM709 451h1V472h-1zM711 451h1V472h-1zM740 441h1V472h-1zM742 441h1V472h-1zM744 441h1V472h-1zM749 441h1V472h-1zM751 441h1V472h-1zM753 441h1V472h-1zM755 441h1V472h-1zM758 441h1V472h-1zM760 441h1V472h-1zM762 441h1V472h-1zM764 383h1V472h-1zM769 383h1V472h-1zM771 383h1V472h-1zM773 383h1V472h-1zM778 383h1V472h-1zM780 383h1V472h-1zM782 383h1V472h-1zM784 383h1V472h-1zM789 375h1V472h-1zM791 375h1V472h-1zM793 375h1V472h-1zM798 375h1V472h-1zM800 375h1V472h-1zM802 375h1V472h-1zM804 375h1V472h-1zM884 431h1V472h-1z" fill="#008000"/>
<g stroke="#000" stroke-width="1.11" fill="none">
<path d="M184.5 69.5H920.5V472.5H184.5z"/>
<path d="M184.5 357.5H920.5"/>
<path d="M179.0 82.5H184.5"/>
<path d="M179.0 122.5H184.5"/>
<path d="M179.0 162.5H184.5"/>
<path d="M179.0 203.5H184.5"/>
<path d="M179.0 243.5H184.5"/>
<path d="M179.0 283.5H184.5"/>
<path d="M179.0 323.5H184.5"/>
<path d="M179.0 379.5H184.5"/>
<path d="M179.0 429.5H184.5"/>
<path d="M220.5 473V477.9"/>
<path d="M331.5 473V477.9"/>
<path d="M442.5 473V477.9"/>
<path d="M553.5 473V477.9"/>
<path d="M664.5 473V477.9"/>
<path d="M775.5 473V477.9"/>
<path d="M887.5 473V477.9"/>
</g>
<text x="230.62" y="15.90" font-size="17.50" textLength="69.90" lengthAdjust="spacingAndGlyphs">N225MC</text>
<text x="306.09" y="15.90" font-size="17.50" textLength="82.69" lengthAdjust="spacingAndGlyphs">12-Minute</text>
<text x="393.92" y="15.90" font-size="17.50" textLength="45.41" lengthAdjust="spacingAndGlyphs">Chart</text>
<text x="445.09" y="15.90" font-size="17.50" textLength="102.22" lengthAdjust="spacingAndGlyphs">(2025-10-20</text>
<text x="553.61" y="15.90" font-size="17.50" textLength="46.14" lengthAdjust="spacingAndGlyphs">18:00</text>
<text x="601.13" y="15.90" font-size="17.50" textLength="14.10" lengthAdjust="spacingAndGlyphs">~</text>
<text x="615.20" y="15.90" font-size="17.50" textLength="54.49" lengthAdjust="spacingAndGlyphs">19:00)</text>
<text x="674.63" y="15.90" font-size="17.50" textLength="6.55" lengthAdjust="spacingAndGlyphs">-</text>
<text x="686.10" y="15.90" font-size="17.50" textLength="24.79" lengthAdjust="spacingAndGlyphs">MA</text>
<text x="716.15" y="15.90" font-size="17.50" textLength="20.85" lengthAdjust="spacingAndGlyphs">on</text>
<text x="742.27" y="15.90" font-size="17.50" textLength="49.02" lengthAdjust="spacingAndGlyphs">HLC/3</text>
<text x="131.28" y="88.00" font-size="14.10" textLength="42.83" lengthAdjust="spacingAndGlyphs">49380</text>
<text x="131.28" y="128.00" font-size="14.10" textLength="42.83" lengthAdjust="spacingAndGlyphs">49360</text>
<text x="131.28" y="168.00" font-size="14.10" textLength="42.83" lengthAdjust="spacingAndGlyphs">49340</text>
<text x="131.28" y="208.00" font-size="14.10" textLength="42.83" lengthAdjust="spacingAndGlyphs">49320</text>
<text x="131.28" y="248.00" font-size="14.10" textLength="42.83" lengthAdjust="spacingAndGlyphs">49300</text>
<text x="131.28" y="289.00" font-size="14.10" textLength="42.83" lengthAdjust="spacingAndGlyphs">49280</text>
<text x="131.28" y="329.00" font-size="14.10" textLength="42.83" lengthAdjust="spacingAndGlyphs">49260</text>
<text x="138.80" y="385.00" font-size="14.10" textLength="35.11" lengthAdjust="spacingAndGlyphs">2000</text>
<text x="140.59" y="434.00" font-size="14.10" textLength="33.34" lengthAdjust="spacingAndGlyphs">1000</text>
<text transform="translate(122.00,215.59) rotate(-90)" font-size="14.10" textLength="33.08" lengthAdjust="spacingAndGlyphs" text-anchor="middle">Price</text>
<text transform="translate(129.70,415.60) rotate(-90)" font-size="14.10" textLength="50.86" lengthAdjust="spacingAndGlyphs" text-anchor="middle">Volume</text>
<text transform="translate(218.23,500.29) rotate(-45)" y="5.00" font-size="14.10" textLength="40.44" lengthAdjust="spacingAndGlyphs" text-anchor="middle">18:51</text>
<text transform="translate(329.23,500.29) rotate(-45)" y="5.00" font-size="14.10" textLength="40.44" lengthAdjust="spacingAndGlyphs" text-anchor="middle">18:57</text>
<text transform="translate(440.23,500.29) rotate(-45)" y="5.00" font-size="14.10" textLength="40.44" lengthAdjust="spacingAndGlyphs" text-anchor="middle">19:03</text>
<text transform="translate(551.23,500.29) rotate(-45)" y="5.00" font-size="14.10" textLength="40.44" lengthAdjust="spacingAndGlyphs" text-anchor="middle">19:12</text>
<text transform="translate(662.23,500.29) rotate(-45)" y="5.00" font-size="14.10" textLength="40.44" lengthAdjust="spacingAndGlyphs" text-anchor="middle">19:21</text>
<text transform="translate(773.23,500.29) rotate(-45)" y="5.00" font-size="14.10" textLength="40.44" lengthAdjust="spacingAndGlyphs" text-anchor="middle">19:33</text>
</svg></body></html>
